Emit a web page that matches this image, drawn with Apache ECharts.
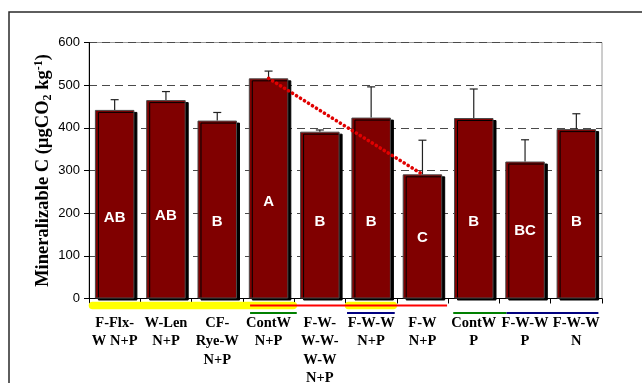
<!DOCTYPE html>
<html>
<head>
<meta charset="utf-8">
<script src="https://cdn.jsdelivr.net/npm/echarts@6/dist/echarts.min.js"></script>
<style>
  html, body { margin: 0; padding: 0; background: #fff; }
  #chart { width: 642px; height: 383px; }
</style>
</head>
<body>
<div id="chart"></div>
<script>
// Rotation systems
const categories = [
  'F-Flx-\nW N+P', 'W-Len\nN+P', 'CF-\nRye-W\nN+P', 'ContW\nN+P',
  'F-W-\nW-W-\nW-W\nN+P', 'F-W-W\nN+P', 'F-W\nN+P', 'ContW\nP',
  'F-W-W\nP', 'F-W-W\nN'
];
// Mean mineralizable C (µgCO2 kg-1) and standard error
const meanC = [442, 465, 417, 516, 391, 424, 291, 423, 321, 397];
const errC  = [24, 20, 19, 17, 4, 72, 80, 68, 51, 36];
// Significance groups and the height (in axis units) at which each letter sits
const letters = ['AB', 'AB', 'B', 'A', 'B', 'B', 'C', 'B', 'BC', 'B'];
const letterAt = [190, 193, 179, 227, 179, 179, 142, 179, 158, 179];
// Trend between continuous wheat and the F-W rotation
const trendFrom = 3, trendTo = 6;
// Group underlines below the axis: [from edge, to edge, row, colour index]
const underlineColors = ['#ffff00', '#ff0000', '#008000', '#000080'];
const underlines = [
  [0.00, 4.05, 0, 0],
  [4.99, 6.00, 0, 0],
  [3.14, 6.98, 0, 1],
  [3.14, 4.05, 1, 2],
  [5.03, 5.96, 1, 3],
  [7.10, 8.14, 1, 2],
  [8.14, 9.93, 1, 3]
];
const yTicks = { min: 0, max: 600, interval: 100 };

const serif = '"Liberation Serif", "Times New Roman", serif';
const sans = '"Liberation Sans", Arial, sans-serif';

const trendData = meanC.map((v, i) => (i === trendFrom || i === trendTo) ? v : null);

const chart = echarts.init(document.getElementById('chart'), null, { renderer: 'canvas' });

chart.setOption({
  animation: false,
  backgroundColor: '#fff',
  graphic: [{
    type: 'rect',
    shape: { x: 9, y: 12, width: 700, height: 420 },
    style: { fill: 'none', stroke: '#2a2a2a', lineWidth: 1.5 },
    silent: true,
    z: 0
  }],
  grid: {
    left: 89, right: 40, top: 42.5, bottom: 84.5,
    outerBoundsMode: 'none',
    containLabel: false,
    show: true, borderColor: '#9a9a9a', borderWidth: 1, backgroundColor: 'transparent'
  },
  xAxis: {
    type: 'category',
    data: categories,
    axisLine: { lineStyle: { color: '#000', width: 1 } },
    axisTick: { show: true, length: 5, lineStyle: { color: '#000' } },
    axisLabel: {
      interval: 0,
      margin: 15,
      color: '#000',
      fontFamily: serif,
      fontWeight: 'bold',
      fontSize: 14.5,
      lineHeight: 18.5,
      verticalAlign: 'top'
    }
  },
  yAxis: {
    type: 'value',
    min: yTicks.min, max: yTicks.max, interval: yTicks.interval,
    axisLine: { show: true, lineStyle: { color: '#000', width: 1 } },
    axisTick: { show: true, length: 5, lineStyle: { color: '#000' } },
    axisLabel: { color: '#000', fontFamily: sans, fontSize: 13, margin: 9 },
    splitLine: { show: true, lineStyle: { color: '#4a4a4a', type: [8, 5], width: 1 } },
    name: 'Mineralizable C (µgCO{sub|2} kg{sup|-1})',
    nameLocation: 'middle',
    nameGap: 35,
    nameMoveOverlap: false,
    nameRotate: 90,
    nameTextStyle: {
      color: '#000', fontFamily: serif, fontWeight: 'bold', fontSize: 18.5, lineHeight: 21,
      rich: {
        sub: { fontFamily: serif, fontWeight: 'bold', fontSize: 12, verticalAlign: 'bottom', lineHeight: 12 },
        sup: { fontFamily: serif, fontWeight: 'bold', fontSize: 12, verticalAlign: 'top', lineHeight: 12 }
      }
    }
  },
  series: [
    {
      type: 'bar',
      data: meanC,
      barWidth: '77%',
      itemStyle: {
        color: '#800000',
        borderColor: '#4a4a4a',
        borderWidth: 1,
        shadowColor: '#000',
        shadowBlur: 0,
        shadowOffsetX: 3,
        shadowOffsetY: 2
      },
      z: 2
    },
    {
      // error whiskers (upper half only)
      type: 'custom',
      data: meanC.map((v, i) => [i, v, errC[i]]),
      encode: { x: 0, y: 1 },
      renderItem: function (params, api) {
        const i = api.value(0), v = api.value(1), e = api.value(2);
        const p0 = api.coord([i, v]);
        const p1 = api.coord([i, v + e]);
        const style = { stroke: '#222', lineWidth: 1.2 };
        return {
          type: 'group',
          children: [
            { type: 'line', shape: { x1: p0[0], y1: p0[1], x2: p1[0], y2: p1[1] }, style: style },
            { type: 'line', shape: { x1: p1[0] - 4, y1: p1[1], x2: p1[0] + 4, y2: p1[1] }, style: style }
          ]
        };
      },
      z: 3
    },
    {
      // significance letters
      type: 'scatter',
      data: letterAt.map((v, i) => [i, v]),
      symbolSize: 0,
      silent: true,
      itemStyle: { opacity: 1, color: '#800000' },
      label: {
        show: true,
        position: 'inside',
        formatter: p => letters[p.dataIndex],
        color: '#ffffff',
        textBorderWidth: 0,
        textBorderColor: 'transparent',
        fontFamily: sans,
        fontWeight: 'bold',
        fontSize: 15
      },
      z: 4
    },
    {
      type: 'line',
      data: trendData,
      connectNulls: true,
      symbol: 'none',
      lineStyle: { color: '#e00000', width: 3.6, type: [0.1, 4.6], cap: 'round' },
      z: 5
    },
    {
      // group underlines beneath the category axis
      type: 'custom',
      clip: false,
      silent: true,
      data: underlines.map(u => [0, 0, u[0], u[1], u[2], u[3]]),
      encode: { x: 0, y: 1 },
      renderItem: function (params, api) {
        const origin = api.coord([0, 0]);
        const band = api.size([1, 0])[0];
        const left = origin[0] - band / 2;
        const from = api.value(2), to = api.value(3), row = api.value(4), ci = api.value(5);
        const x1 = left + from * band, x2 = left + to * band;
        let y, width, cap;
        if (ci === 0) { y = origin[1] + 7; width = 7.5; cap = 'round'; }
        else if (row === 0) { y = origin[1] + 7; width = 2; cap = 'butt'; }
        else { y = origin[1] + 14.5; width = 2; cap = 'butt'; }
        return {
          type: 'line',
          shape: { x1: x1 + (cap === 'round' ? 3.5 : 0), y1: y, x2: x2 - (cap === 'round' ? 3.5 : 0), y2: y },
          style: { stroke: underlineColors[ci], lineWidth: width, lineCap: cap }
        };
      },
      z: 6
    }
  ]
});
</script>
</body>
</html>
